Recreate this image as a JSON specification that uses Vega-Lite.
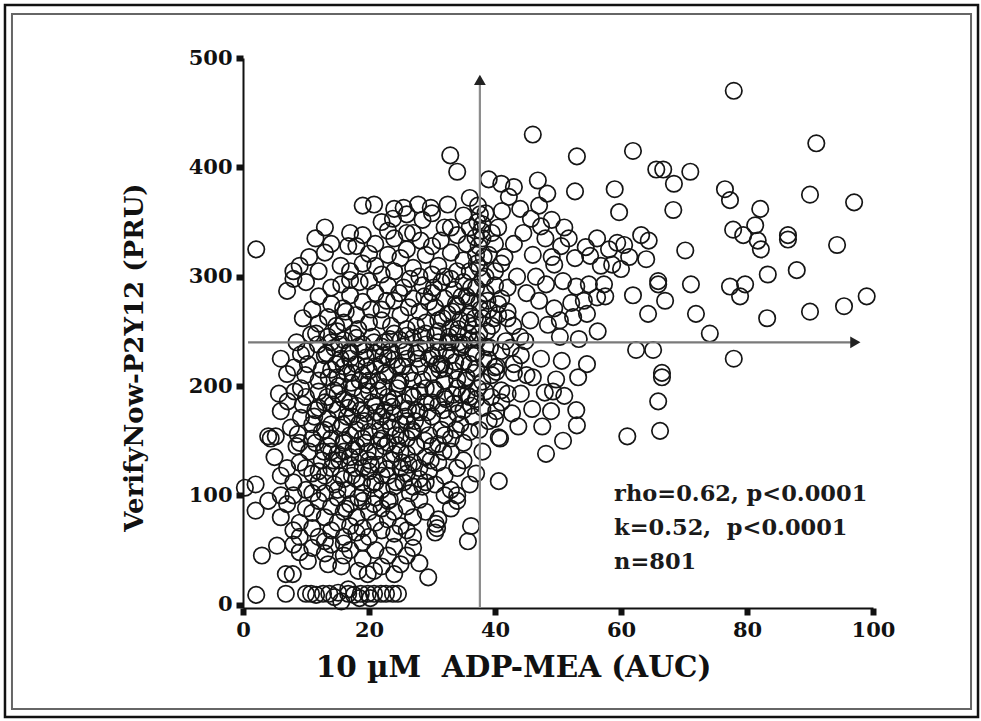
{
"$schema":"https://vega.github.io/schema/vega-lite/v6.json",
"width":630,"height":550,"padding":3,"background":"white",
"config":{"view":{"stroke":null},"font":"DejaVu Serif"},
"layer":[
{"data":{"values":[{}]},"mark":{"type":"rect","fillOpacity":0,"stroke":"#111","strokeWidth":2.5},
 "encoding":{"x":{"datum":-37.78,"type":"quantitative","scale":{"domain":[0,100],"nice":false,"zero":false}},
 "x2":{"datum":116.67},
 "y":{"datum":548.5,"type":"quantitative","scale":{"domain":[-3,500],"nice":false,"zero":false}},
 "y2":{"datum":-102.7}}},
{"data":{"values":[{}]},"mark":{"type":"rect","fillOpacity":0,"stroke":"#666","strokeWidth":2},
 "encoding":{"x":{"datum":-36.67,"type":"quantitative","scale":{"domain":[0,100],"nice":false,"zero":false}},
 "x2":{"datum":115.56},
 "y":{"datum":540.2,"type":"quantitative","scale":{"domain":[-3,500],"nice":false,"zero":false}},
 "y2":{"datum":-95.4}}},
{"data":{"values":[
{"x":77.9,"y":470},{"x":46,"y":430},{"x":53,"y":410},{"x":61.9,"y":415},{"x":91,"y":422},{"x":32.9,"y":411},{"x":34,"y":396},{"x":39,"y":389},{"x":65.6,"y":398},{"x":66.7,"y":398},{"x":71,"y":396},{"x":68.4,"y":385},{"x":46.8,"y":388},{"x":48.3,"y":376},{"x":52.7,"y":378},{"x":59,"y":380},{"x":76.5,"y":380},{"x":77.3,"y":370},{"x":90,"y":375},{"x":97,"y":368},{"x":68.3,"y":361},{"x":59.7,"y":359},{"x":77.8,"y":343},{"x":79.4,"y":338},{"x":81.3,"y":347},{"x":82.1,"y":362},{"x":86.5,"y":338},{"x":86.5,"y":334},{"x":81.7,"y":333},{"x":82.2,"y":325},{"x":70.2,"y":324},{"x":94.3,"y":329},{"x":55.1,"y":319},{"x":60.5,"y":329},{"x":60,"y":307},{"x":65.9,"y":293},{"x":65.9,"y":296},{"x":87.9,"y":306},{"x":83.3,"y":302},{"x":79.7,"y":293},{"x":78.9,"y":282},{"x":77.3,"y":291},{"x":71.1,"y":293},{"x":61.9,"y":283},{"x":67,"y":278},{"x":57.3,"y":293},{"x":57.5,"y":282},{"x":64.3,"y":266},{"x":71.9,"y":266},{"x":83.2,"y":262},{"x":90,"y":268},{"x":95.4,"y":273},{"x":99,"y":282},{"x":74.1,"y":248},{"x":62.4,"y":233},{"x":65.1,"y":233},{"x":77.9,"y":225},{"x":66.5,"y":212},{"x":66.5,"y":208},{"x":65.9,"y":186},{"x":66.2,"y":159},{"x":61,"y":154},{"x":53,"y":164},{"x":48.1,"y":138},{"x":40.6,"y":113},{"x":36.2,"y":72},{"x":35.7,"y":58},{"x":59.4,"y":331},{"x":63.2,"y":338},{"x":64.4,"y":333},{"x":64,"y":316},{"x":61.3,"y":318},{"x":50.8,"y":150},
{"x":41.1,"y":360},{"x":42.2,"y":373},{"x":45.7,"y":353},{"x":47.3,"y":346},{"x":50.5,"y":328},{"x":51.7,"y":335},{"x":52.7,"y":317},{"x":54.4,"y":327},{"x":56.2,"y":335},{"x":58.1,"y":325},{"x":56.8,"y":310},{"x":58.6,"y":311},{"x":49.4,"y":311},{"x":48.1,"y":293},{"x":50.8,"y":296},{"x":52.9,"y":291},{"x":54.9,"y":293},{"x":47,"y":278},{"x":49.4,"y":271},{"x":52.1,"y":276},{"x":54.1,"y":278},{"x":56.2,"y":281},{"x":45.6,"y":260},{"x":48.4,"y":256},{"x":50.3,"y":260},{"x":52.4,"y":263},{"x":54.6,"y":266},{"x":56.3,"y":250},{"x":53.3,"y":243},{"x":50.3,"y":245},{"x":44.8,"y":241},{"x":42.9,"y":255},{"x":41.7,"y":241},{"x":44.1,"y":228},{"x":47.3,"y":225},{"x":50.6,"y":223},{"x":54.6,"y":220},{"x":40.3,"y":218},{"x":43,"y":212},{"x":46,"y":208},{"x":49.7,"y":206},{"x":41,"y":196},{"x":44.1,"y":193},{"x":47.9,"y":194},{"x":51,"y":191},{"x":40.2,"y":177},{"x":42.7,"y":175},{"x":45.9,"y":179},{"x":48.9,"y":177},{"x":43.7,"y":163},{"x":47.5,"y":163},{"x":40.8,"y":152},{"x":49.2,"y":195},{"x":53.2,"y":208},{"x":52.9,"y":178},
{"x":43,"y":330},{"x":44.5,"y":340},{"x":46,"y":320},{"x":48,"y":335},{"x":41.5,"y":318},{"x":43.5,"y":300},{"x":45,"y":285},{"x":42,"y":290},{"x":40.5,"y":275},{"x":42,"y":268},{"x":47,"y":365},{"x":44,"y":362},{"x":40.5,"y":345},{"x":49,"y":352},{"x":51,"y":345},{"x":46.5,"y":300},{"x":49,"y":318},{"x":41,"y":385},{"x":43,"y":382},
{"x":20.8,"y":366},{"x":22,"y":350},{"x":23.8,"y":353},{"x":25.5,"y":363},{"x":27.8,"y":366},{"x":29.8,"y":363},{"x":32.5,"y":366},{"x":32,"y":345},{"x":36,"y":372},{"x":38.5,"y":358},{"x":35,"y":356},{"x":30,"y":358},{"x":28.5,"y":352},{"x":26,"y":357},{"x":24,"y":362},{"x":19,"y":365},{"x":37.3,"y":365},{"x":37.6,"y":357},{"x":37.2,"y":350},{"x":37.8,"y":342},{"x":36.9,"y":336},{"x":37.4,"y":328},{"x":38.2,"y":318},{"x":37.1,"y":312},
{"x":2.1,"y":325},{"x":12,"y":305},{"x":17,"y":305},{"x":16.7,"y":328},{"x":18,"y":328},{"x":20,"y":321},{"x":23,"y":320},{"x":25,"y":317},{"x":28.2,"y":333},{"x":27,"y":340},{"x":31.4,"y":333},{"x":14,"y":330},{"x":13,"y":322},{"x":10.5,"y":318},{"x":9,"y":310},{"x":8,"y":305},{"x":21,"y":310},{"x":24,"y":305},{"x":26,"y":325},{"x":29,"y":320},{"x":31,"y":310},{"x":33,"y":322},{"x":34,"y":338},{"x":35,"y":315},{"x":36,"y":305},{"x":38,"y":335},{"x":39,"y":320},{"x":40,"y":305},{"x":30,"y":302},{"x":27,"y":308},{"x":22,"y":302},{"x":19,"y":312},{"x":15.5,"y":310},{"x":33,"y":345},{"x":36,"y":345},{"x":38,"y":348},{"x":39.5,"y":340},{"x":35.5,"y":330},{"x":37,"y":320},{"x":32,"y":300},{"x":28,"y":300},{"x":26,"y":340},{"x":24,"y":335},{"x":21,"y":330},{"x":19,"y":338},{"x":11.5,"y":335},{"x":30,"y":328},{"x":34,"y":305},{"x":37.5,"y":308},{"x":40,"y":330},{"x":41,"y":312},{"x":38.5,"y":300},{"x":13,"y":345},{"x":17,"y":340},{"x":23,"y":342},
{"x":7,"y":287},{"x":8,"y":298},{"x":12,"y":282},{"x":15.6,"y":293},{"x":15.9,"y":271},{"x":20,"y":296},{"x":12,"y":257},{"x":11,"y":270},{"x":13.5,"y":263},{"x":14,"y":290},{"x":17,"y":283},{"x":18,"y":265},{"x":19,"y":277},{"x":20,"y":258},{"x":21,"y":285},{"x":22,"y":270},{"x":23,"y":292},{"x":23.5,"y":255},{"x":24,"y":278},{"x":25,"y":265},{"x":25.5,"y":290},{"x":26,"y":252},{"x":27,"y":280},{"x":28,"y":268},{"x":28.5,"y":292},{"x":29,"y":258},{"x":30,"y":285},{"x":30.5,"y":272},{"x":31,"y":260},{"x":31.5,"y":295},{"x":32,"y":280},{"x":32.5,"y":266},{"x":33,"y":253},{"x":33.5,"y":288},{"x":34,"y":273},{"x":34.5,"y":260},{"x":35,"y":295},{"x":35.5,"y":282},{"x":36,"y":266},{"x":36.5,"y":255},{"x":37,"y":290},{"x":37.5,"y":276},{"x":38,"y":262},{"x":38.5,"y":285},{"x":39,"y":270},{"x":39.5,"y":255},{"x":40,"y":292},{"x":41,"y":280},{"x":42,"y":262},{"x":10,"y":295},{"x":9.5,"y":262},{"x":16,"y":258},{"x":18.5,"y":295},{"x":26.5,"y":298},{"x":29.5,"y":277},{"x":33,"y":298},{"x":36,"y":278},{"x":38,"y":298},{"x":40.5,"y":265},{"x":31,"y":250},{"x":27.5,"y":255},{"x":22,"y":260},{"x":17,"y":297},{"x":14,"y":275},
{"x":11.6,"y":248},{"x":10.8,"y":247},{"x":9.2,"y":229},{"x":11.9,"y":238},{"x":10.3,"y":220},{"x":8.1,"y":217},{"x":7,"y":211},{"x":40,"y":217},{"x":40.2,"y":213},{"x":43,"y":220},{"x":42.5,"y":235},{"x":12,"y":205},{"x":13,"y":228},{"x":13.5,"y":245},{"x":14,"y":215},{"x":14.5,"y":235},{"x":15,"y":208},{"x":15.5,"y":225},{"x":16,"y":242},{"x":16.5,"y":212},{"x":17,"y":232},{"x":17.5,"y":248},{"x":18,"y":220},{"x":18.5,"y":205},{"x":19,"y":238},{"x":19.5,"y":226},{"x":20,"y":214},{"x":20.5,"y":245},{"x":21,"y":230},{"x":21.5,"y":205},{"x":22,"y":220},{"x":22.5,"y":240},{"x":23,"y":210},{"x":23.5,"y":232},{"x":24,"y":248},{"x":24.5,"y":218},{"x":25,"y":205},{"x":25.5,"y":236},{"x":26,"y":225},{"x":26.5,"y":212},{"x":27,"y":244},{"x":27.5,"y":230},{"x":28,"y":218},{"x":28.5,"y":206},{"x":29,"y":238},{"x":29.5,"y":225},{"x":30,"y":212},{"x":30.5,"y":246},{"x":31,"y":232},{"x":31.5,"y":220},{"x":32,"y":205},{"x":32.5,"y":240},{"x":33,"y":228},{"x":33.5,"y":214},{"x":34,"y":248},{"x":34.5,"y":235},{"x":35,"y":222},{"x":35.5,"y":208},{"x":36,"y":242},{"x":36.5,"y":230},{"x":37,"y":216},{"x":37.5,"y":248},{"x":38,"y":204},{"x":38.5,"y":236},{"x":39,"y":224},{"x":39.5,"y":210},{"x":16,"y":218},{"x":18,"y":244},{"x":20,"y":205},{"x":22,"y":236},{"x":24,"y":224},{"x":26,"y":246},{"x":28,"y":235},{"x":30,"y":228},{"x":32,"y":216},{"x":34,"y":206},{"x":36,"y":220},{"x":15,"y":250},{"x":12.5,"y":215},{"x":21,"y":218},{"x":25,"y":242},{"x":29,"y":248},{"x":33,"y":240},{"x":23,"y":226},{"x":27,"y":205},{"x":31,"y":240},{"x":19,"y":210},{"x":17,"y":225},{"x":14,"y":240},{"x":35,"y":238},{"x":37,"y":230},{"x":10,"y":232},{"x":8.5,"y":240},{"x":41,"y":232},{"x":44,"y":245},{"x":45,"y":210},{"x":6,"y":225},
{"x":5.7,"y":193},{"x":6,"y":177},{"x":4.4,"y":152},{"x":7.6,"y":162},{"x":7.1,"y":186},{"x":9.2,"y":198},{"x":9.5,"y":183},{"x":9.2,"y":171},{"x":8.7,"y":156},{"x":40.6,"y":153},{"x":42,"y":193},{"x":4,"y":154},{"x":5.2,"y":154},{"x":10,"y":190},{"x":11,"y":165},{"x":11.5,"y":178},{"x":12,"y":195},{"x":12.5,"y":158},{"x":13,"y":185},{"x":13.5,"y":170},{"x":14,"y":152},{"x":14.5,"y":196},{"x":15,"y":178},{"x":15.5,"y":162},{"x":16,"y":188},{"x":16.5,"y":172},{"x":17,"y":155},{"x":17.5,"y":198},{"x":18,"y":182},{"x":18.5,"y":166},{"x":19,"y":192},{"x":19.5,"y":175},{"x":20,"y":158},{"x":20.5,"y":185},{"x":21,"y":168},{"x":21.5,"y":196},{"x":22,"y":152},{"x":22.5,"y":178},{"x":23,"y":190},{"x":23.5,"y":162},{"x":24,"y":175},{"x":24.5,"y":198},{"x":25,"y":155},{"x":25.5,"y":185},{"x":26,"y":168},{"x":26.5,"y":192},{"x":27,"y":158},{"x":27.5,"y":178},{"x":28,"y":195},{"x":28.5,"y":165},{"x":29,"y":185},{"x":29.5,"y":155},{"x":30,"y":172},{"x":30.5,"y":196},{"x":31,"y":182},{"x":31.5,"y":160},{"x":32,"y":190},{"x":32.5,"y":170},{"x":33,"y":152},{"x":33.5,"y":184},{"x":34,"y":198},{"x":34.5,"y":165},{"x":35,"y":178},{"x":35.5,"y":192},{"x":36,"y":158},{"x":36.5,"y":172},{"x":37,"y":188},{"x":37.5,"y":160},{"x":38,"y":180},{"x":38.5,"y":195},{"x":39,"y":168},{"x":16,"y":150},{"x":18,"y":160},{"x":20,"y":195},{"x":22,"y":172},{"x":24,"y":188},{"x":26,"y":152},{"x":28,"y":176},{"x":12,"y":180},{"x":14,"y":165},{"x":19,"y":152},{"x":23,"y":168},{"x":27,"y":190},{"x":21,"y":182},{"x":25,"y":165},{"x":17,"y":185},{"x":15,"y":193},{"x":13,"y":160},{"x":30,"y":185},{"x":32,"y":155},{"x":34,"y":175},{"x":36,"y":190},{"x":11,"y":152},{"x":29,"y":198},{"x":40,"y":170},{"x":41,"y":185},
{"x":5,"y":135},{"x":7,"y":125},{"x":8,"y":112},{"x":8.5,"y":145},{"x":9,"y":130},{"x":10,"y":105},{"x":10.5,"y":140},{"x":11,"y":120},{"x":11.5,"y":148},{"x":12,"y":112},{"x":12.5,"y":132},{"x":13,"y":102},{"x":13.5,"y":145},{"x":14,"y":125},{"x":14.5,"y":110},{"x":15,"y":138},{"x":15.5,"y":118},{"x":16,"y":148},{"x":16.5,"y":105},{"x":17,"y":128},{"x":17.5,"y":142},{"x":18,"y":115},{"x":18.5,"y":135},{"x":19,"y":102},{"x":19.5,"y":148},{"x":20,"y":122},{"x":20.5,"y":110},{"x":21,"y":140},{"x":21.5,"y":128},{"x":22,"y":105},{"x":22.5,"y":145},{"x":23,"y":118},{"x":23.5,"y":132},{"x":24,"y":108},{"x":24.5,"y":146},{"x":25,"y":125},{"x":25.5,"y":112},{"x":26,"y":138},{"x":26.5,"y":102},{"x":27,"y":130},{"x":27.5,"y":145},{"x":28,"y":115},{"x":28.5,"y":108},{"x":29,"y":135},{"x":29.5,"y":122},{"x":30,"y":145},{"x":30.5,"y":110},{"x":31,"y":130},{"x":32,"y":118},{"x":33,"y":140},{"x":34,"y":125},{"x":35,"y":148},{"x":36,"y":110},{"x":12,"y":122},{"x":14,"y":140},{"x":16,"y":115},{"x":18,"y":145},{"x":20,"y":132},{"x":22,"y":118},{"x":24,"y":138},{"x":26,"y":120},{"x":6,"y":118},{"x":9,"y":148},{"x":11,"y":102},{"x":15,"y":105},{"x":19,"y":125},{"x":23,"y":148},{"x":27,"y":108},{"x":21,"y":112},{"x":17,"y":135},{"x":13,"y":118},{"x":25,"y":140},{"x":29,"y":112},{"x":33,"y":105},{"x":35,"y":132},{"x":37,"y":120},{"x":38,"y":140},{"x":34,"y":100},{"x":31,"y":147},{"x":28,"y":125},{"x":10,"y":125},{"x":16,"y":140},
{"x":2,"y":86},{"x":0.3,"y":107},{"x":2,"y":110},{"x":6,"y":80},{"x":7,"y":92},{"x":8,"y":100},{"x":9,"y":75},{"x":10,"y":88},{"x":11,"y":70},{"x":12,"y":95},{"x":12,"y":62},{"x":13,"y":80},{"x":14,"y":68},{"x":14,"y":90},{"x":15,"y":75},{"x":15,"y":98},{"x":16,"y":62},{"x":16,"y":85},{"x":17,"y":72},{"x":17,"y":92},{"x":18,"y":66},{"x":18,"y":80},{"x":19,"y":95},{"x":19,"y":70},{"x":20,"y":85},{"x":20,"y":62},{"x":21,"y":75},{"x":21,"y":98},{"x":22,"y":68},{"x":22,"y":88},{"x":23,"y":78},{"x":23,"y":95},{"x":24,"y":65},{"x":24,"y":85},{"x":25,"y":72},{"x":26,"y":90},{"x":26,"y":68},{"x":27,"y":80},{"x":28,"y":96},{"x":29,"y":85},{"x":30.6,"y":74},{"x":30.8,"y":70},{"x":30.5,"y":66},{"x":31,"y":78},{"x":32,"y":100},{"x":33,"y":88},{"x":34,"y":95},{"x":27,"y":62},{"x":19,"y":57},{"x":16,"y":56},{"x":13,"y":58},{"x":11,"y":84},{"x":9,"y":62},{"x":8,"y":68},{"x":6,"y":100},{"x":4,"y":95},{"x":18.3,"y":98},{"x":20.8,"y":92},{"x":23.3,"y":96},{"x":16.3,"y":88},
{"x":6.8,"y":28},{"x":7.9,"y":28},{"x":29.4,"y":25},{"x":19.8,"y":28},{"x":20.8,"y":31},{"x":24,"y":28},{"x":25,"y":37},{"x":18.3,"y":31},{"x":15.6,"y":35},{"x":13.5,"y":37},{"x":10.3,"y":40},{"x":16,"y":45},{"x":19,"y":42},{"x":22,"y":35},{"x":23,"y":45},{"x":26,"y":45},{"x":28,"y":38},{"x":21,"y":50},{"x":17,"y":50},{"x":13,"y":47},{"x":11,"y":52},{"x":9,"y":48},{"x":3,"y":45},{"x":5.4,"y":54},{"x":8,"y":55},{"x":14,"y":55},{"x":24,"y":53},{"x":27,"y":52},
{"x":2.1,"y":9},{"x":6.8,"y":10},{"x":10,"y":10},{"x":10.8,"y":10},{"x":11.6,"y":9},{"x":12.7,"y":10},{"x":13.7,"y":10},{"x":15.1,"y":11},{"x":16.7,"y":10},{"x":17.6,"y":9},{"x":18.7,"y":10},{"x":19.8,"y":10},{"x":20.8,"y":10},{"x":21.9,"y":10},{"x":22.7,"y":10},{"x":23.8,"y":10},{"x":24.6,"y":10},{"x":15.6,"y":3},{"x":16.7,"y":14},{"x":18.5,"y":6},{"x":14.5,"y":7},{"x":20.2,"y":6},
{"x":15.2,"y":200},{"x":17.2,"y":203},{"x":19.7,"y":201},{"x":22.3,"y":199},{"x":24.7,"y":202},{"x":14.2,"y":183},{"x":16.7,"y":180},{"x":18.7,"y":178},{"x":21.2,"y":176},{"x":23.7,"y":181},{"x":26.2,"y":179},{"x":15.3,"y":132},{"x":17.8,"y":125},{"x":20.3,"y":128},{"x":22.8,"y":124},{"x":25.3,"y":130},{"x":31.7,"y":262},{"x":33.2,"y":268},{"x":34.7,"y":282},{"x":36.2,"y":290},{"x":37.7,"y":270},{"x":32.7,"y":245},{"x":34.2,"y":252},{"x":35.7,"y":258},{"x":37.2,"y":242},{"x":38.7,"y":250},{"x":31.2,"y":215},{"x":33.7,"y":222},{"x":36.7,"y":212},{"x":38.2,"y":225},{"x":39.2,"y":235},{"x":30.2,"y":198},{"x":32.2,"y":188},{"x":34.7,"y":192},{"x":36.2,"y":182},{"x":33.8,"y":160},{"x":16.8,"y":230},{"x":18.3,"y":236},{"x":20.8,"y":240},{"x":23.3,"y":243},{"x":25.8,"y":232},{"x":14.8,"y":220},{"x":19.6,"y":218},{"x":13.6,"y":208},{"x":28.3,"y":246},{"x":22.6,"y":212},{"x":12.8,"y":140},{"x":18.9,"y":112},{"x":21.6,"y":150},{"x":24.2,"y":155},{"x":26.8,"y":160},{"x":28.9,"y":150},{"x":11.3,"y":172},{"x":13.4,"y":190},{"x":9.9,"y":210},{"x":8.2,"y":195},
{"x":15.8,"y":165},{"x":17.3,"y":172},{"x":19.3,"y":168},{"x":21.8,"y":160},{"x":23.3,"y":185},{"x":25.8,"y":172},{"x":27.3,"y":168},{"x":29.3,"y":176},{"x":31.8,"y":178},{"x":33.3,"y":192},{"x":35.3,"y":205},{"x":37.3,"y":198},{"x":39.4,"y":190},{"x":30.8,"y":220},{"x":32.3,"y":232},{"x":34.3,"y":240},{"x":35.8,"y":248},{"x":36.8,"y":262},{"x":38.8,"y":278},{"x":39.8,"y":262},{"x":33.8,"y":275},{"x":30.3,"y":290},{"x":28.8,"y":282},{"x":26.3,"y":272},{"x":24.8,"y":285},{"x":22.8,"y":278},{"x":20.3,"y":270},{"x":18.3,"y":252},{"x":16.3,"y":268},{"x":14.8,"y":255},{"x":27.8,"y":225},{"x":25.3,"y":218},{"x":22.3,"y":228},{"x":19.3,"y":232},{"x":17.3,"y":212},{"x":15.3,"y":238},{"x":13.3,"y":230},{"x":24.3,"y":112},{"x":26.3,"y":128},{"x":19.8,"y":140},{"x":17.3,"y":118},{"x":14.3,"y":132},{"x":29.8,"y":132},{"x":31.8,"y":140}
]},
 "mark":{"type":"point","shape":"circle","filled":false,"color":"#151515","strokeWidth":1.7,"size":270,"opacity":1},
 "encoding":{
  "x":{"field":"x","type":"quantitative","scale":{"domain":[0,100],"nice":false,"zero":false},
   "axis":{"values":[0,20,40,60,80,100],"title":"10 µM\u00a0 ADP-MEA (AUC)","grid":false,"domainColor":"#111","domainWidth":2,"tickColor":"#111","tickWidth":6,"tickSize":7,"labelFont":"DejaVu Serif","labelFontWeight":"bold","labelFontSize":21,"labelColor":"#111","labelPadding":4,"labelFlush":false,"labelOverlap":false,"titleFont":"DejaVu Serif","titleFontWeight":"bold","titleFontSize":29.5,"titleColor":"#111","titleX":270,"titleY":68,"titleAlign":"center","titleBaseline":"alphabetic"}},
  "y":{"field":"y","type":"quantitative","scale":{"domain":[-3,500],"nice":false,"zero":false},
   "axis":{"values":[0,100,200,300,400,500],"title":"VerifyNow-P2Y12 (PRU)","grid":false,"domainColor":"#111","domainWidth":2,"tickColor":"#111","tickWidth":6,"tickSize":7,"labelFont":"DejaVu Serif","labelFontWeight":"bold","labelFontSize":21,"labelColor":"#111","labelPadding":4,"labelFlush":false,"labelOverlap":false,"titleFont":"DejaVu Serif","titleFontWeight":"bold","titleFontSize":26,"titleColor":"#111","titleAngle":-90,"titleX":-101,"titleY":299,"titleAlign":"center","titleBaseline":"alphabetic"}}
 }},
{"data":{"values":[{}]},"mark":{"type":"rule","color":"#8c8c8c","strokeWidth":2.2},
 "encoding":{"x":{"datum":37.6,"type":"quantitative","scale":{"domain":[0,100],"nice":false,"zero":false}},
 "y":{"datum":-3,"type":"quantitative","scale":{"domain":[-3,500],"nice":false,"zero":false}},
 "y2":{"datum":478}}},
{"data":{"values":[{}]},"mark":{"type":"rule","color":"#7a7a7a","strokeWidth":2.2},
 "encoding":{"x":{"datum":0.8,"type":"quantitative","scale":{"domain":[0,100],"nice":false,"zero":false}},
 "x2":{"datum":96.5},
 "y":{"datum":240,"type":"quantitative","scale":{"domain":[-3,500],"nice":false,"zero":false}}}},
{"data":{"values":[{}]},"mark":{"type":"point","shape":"triangle-up","filled":true,"color":"#222","size":140,"opacity":1},
 "encoding":{"x":{"datum":37.6,"type":"quantitative","scale":{"domain":[0,100],"nice":false,"zero":false}},
 "y":{"datum":480,"type":"quantitative","scale":{"domain":[-3,500],"nice":false,"zero":false}}}},
{"data":{"values":[{}]},"mark":{"type":"point","shape":"triangle-right","filled":true,"color":"#222","size":140,"opacity":1},
 "encoding":{"x":{"datum":97.2,"type":"quantitative","scale":{"domain":[0,100],"nice":false,"zero":false}},
 "y":{"datum":240,"type":"quantitative","scale":{"domain":[-3,500],"nice":false,"zero":false}}}},
{"data":{"values":[{}]},"mark":{"type":"text","text":["rho=0.62, p<0.0001","k=0.52,\u00a0 p<0.0001","n=801"],"lineHeight":34,"align":"left","baseline":"alphabetic","font":"DejaVu Serif","fontWeight":"bold","fontSize":22.5,"color":"#1a1a1a"},
 "encoding":{"x":{"datum":58.9,"type":"quantitative","scale":{"domain":[0,100],"nice":false,"zero":false}},
 "y":{"datum":94.8,"type":"quantitative","scale":{"domain":[-3,500],"nice":false,"zero":false}}}}
]
}
